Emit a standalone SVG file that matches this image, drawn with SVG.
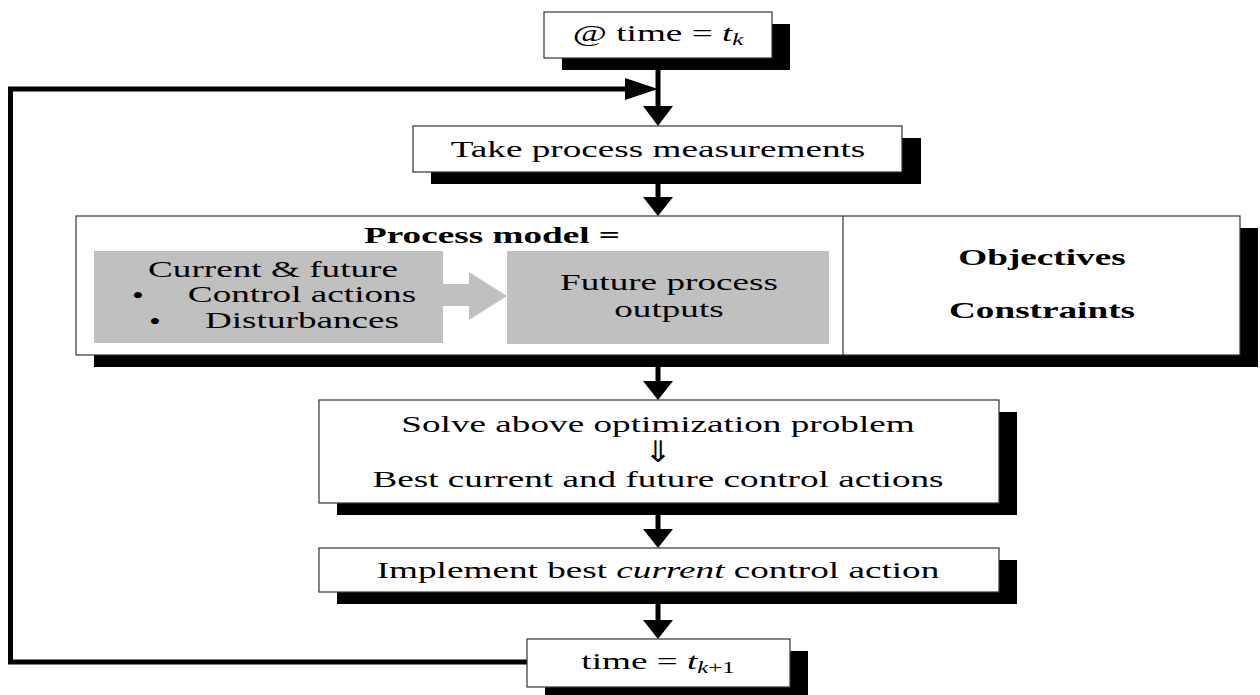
<svg xmlns="http://www.w3.org/2000/svg" width="1260" height="695" viewBox="0 0 1260 695">
<style>
.box{fill:#fff;stroke:#333;stroke-width:1.2}
.shadow{fill:#000}
.gray{fill:#c0c0c0}
.t{font-family:"Liberation Serif","Times New Roman",serif;font-size:24px;fill:#000;text-anchor:middle}
.b{font-weight:bold}
.i{font-style:italic}
.sub{font-size:16px}
.sym{font-family:"DejaVu Sans","Liberation Serif",sans-serif;font-size:30px;fill:#000;text-anchor:middle}
.line{fill:none;stroke:#000;stroke-width:5}
.head{fill:#000}
</style>
<rect width="1260" height="695" fill="#fff"/>

<g id="connectors">
  <line class="line" x1="658" y1="58" x2="658" y2="108"/>
  <polygon class="head" points="643,106 673,106 658,126"/>
  <polyline class="line" points="527,662 10.5,662 10.5,89 627,89"/>
  <polygon class="head" points="625,78 625,100 658,89"/>
  <line class="line" x1="658" y1="172" x2="658" y2="199"/>
  <polygon class="head" points="643,197 673,197 658,216"/>
  <line class="line" x1="658" y1="352" x2="658" y2="383"/>
  <polygon class="head" points="643,381 673,381 658,400"/>
  <line class="line" x1="658" y1="503" x2="658" y2="531"/>
  <polygon class="head" points="643,529 673,529 658,548"/>
  <line class="line" x1="658" y1="592" x2="658" y2="622"/>
  <polygon class="head" points="643,620 673,620 658,639"/>
</g>

<g id="node-start">
  <rect class="shadow" x="562" y="24" width="228" height="46"/>
  <rect class="box" x="544" y="12" width="228" height="46"/>
  <text class="t" transform="translate(658,41) scale(1.55,1)">@ time = <tspan class="i">t</tspan><tspan class="sub i" dy="4">k</tspan></text>
</g>

<g id="node-measure">
  <rect class="shadow" x="431" y="138" width="490" height="46"/>
  <rect class="box" x="413" y="126" width="489" height="46"/>
  <text class="t" transform="translate(658,157) scale(1.55,1)">Take process measurements</text>
</g>

<g id="node-model">
  <rect class="shadow" x="94" y="228" width="1164" height="139"/>
  <rect class="box" x="76" y="216" width="1164" height="139"/>
  <line x1="843" y1="216" x2="843" y2="355" stroke="#333" stroke-width="1.2"/>
  <text class="t b" transform="translate(492,243) scale(1.55,1)">Process model =</text>
  <rect class="gray" x="94" y="251" width="349" height="92"/>
  <polygon class="gray" points="443,284 469,284 469,272 507,296 469,320 469,306 443,306"/>
  <rect class="gray" x="507" y="251" width="322" height="93"/>
  <text class="t" transform="translate(273,277) scale(1.55,1)">Current &amp; future</text>
  <text class="t" style="font-size:26px" transform="translate(138,304) scale(1.3,1)">•</text>
  <text class="t" transform="translate(302,302) scale(1.55,1)">Control actions</text>
  <text class="t" style="font-size:26px" transform="translate(155,330) scale(1.3,1)">•</text>
  <text class="t" transform="translate(302,328) scale(1.55,1)">Disturbances</text>
  <text class="t" transform="translate(669,290) scale(1.55,1)">Future process</text>
  <text class="t" transform="translate(669,317) scale(1.55,1)">outputs</text>
  <text class="t b" transform="translate(1042,265) scale(1.55,1)">Objectives</text>
  <text class="t b" transform="translate(1042,318) scale(1.55,1)">Constraints</text>
</g>

<g id="node-solve">
  <rect class="shadow" x="337" y="412" width="680" height="103"/>
  <rect class="box" x="319" y="400" width="680" height="103"/>
  <text class="t" transform="translate(658,432) scale(1.55,1)">Solve above optimization problem</text>
  <text class="sym" transform="translate(658,462) scale(1.1,1)">⇓</text>
  <text class="t" transform="translate(658,487) scale(1.55,1)">Best current and future control actions</text>
</g>

<g id="node-implement">
  <rect class="shadow" x="337" y="560" width="680" height="44"/>
  <rect class="box" x="319" y="548" width="680" height="44"/>
  <text class="t" transform="translate(658,578) scale(1.55,1)">Implement best <tspan class="i">current</tspan> control action</text>
</g>

<g id="node-next">
  <rect class="shadow" x="545" y="651" width="263" height="48"/>
  <rect class="box" x="527" y="639" width="263" height="48"/>
  <text class="t" transform="translate(658,669) scale(1.55,1)">time =  <tspan class="i">t</tspan><tspan class="sub" dy="4"><tspan class="i">k</tspan>+1</tspan></text>
</g>
</svg>
